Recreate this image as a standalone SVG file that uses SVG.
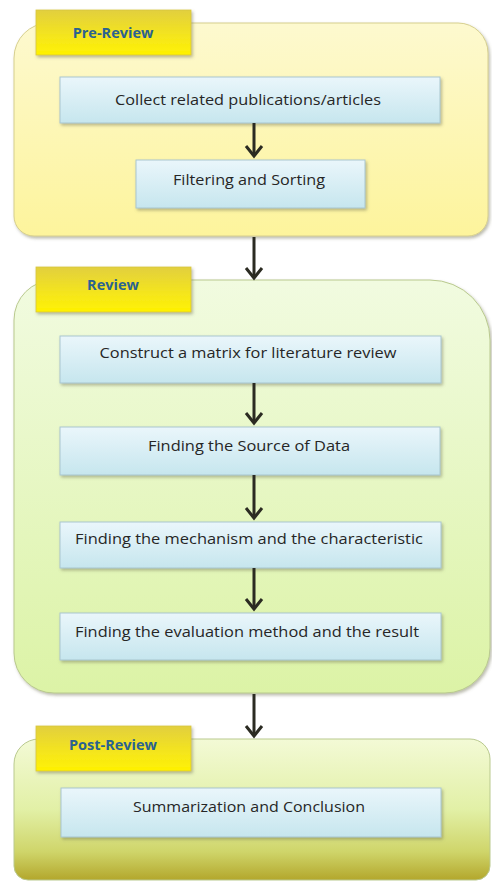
<svg xmlns="http://www.w3.org/2000/svg" width="492" height="881" viewBox="0 0 492 881">
  <style>
    .step { stroke: #a9c6cf; stroke-width: 1; fill: url(#stepFill); filter: url(#shadow); }
    .tab { fill: url(#tabFill); stroke: #d8c640; stroke-width: 0.8; filter: url(#shadow); }
    .label { font-family: "Open Sans", "Liberation Sans", sans-serif; font-size: 14px; fill: #262626; text-anchor: middle; }
    .tabLabel { font-family: "Open Sans", "Liberation Sans", sans-serif; font-size: 14.5px; font-weight: bold; fill: #2a6290; text-anchor: middle; }
    .flow { stroke: #2b2b22; stroke-width: 3; fill: none; marker-end: url(#chevron); }
  </style>
  <defs>
    <linearGradient id="stepFill" x1="0" y1="0" x2="0" y2="1">
      <stop offset="0" stop-color="#eaf6fb"/>
      <stop offset="1" stop-color="#c6e6ee"/>
    </linearGradient>
    <linearGradient id="tabFill" x1="0" y1="0" x2="0" y2="1">
      <stop offset="0" stop-color="#e2cf3e"/>
      <stop offset="0.6" stop-color="#f5e61c"/>
      <stop offset="1" stop-color="#fff200"/>
    </linearGradient>
    <linearGradient id="preFill" x1="0" y1="0" x2="0" y2="1">
      <stop offset="0" stop-color="#fdf9cf"/>
      <stop offset="1" stop-color="#fdf49c"/>
    </linearGradient>
    <linearGradient id="reviewFill" x1="0" y1="0" x2="0" y2="1">
      <stop offset="0" stop-color="#f1fbe0"/>
      <stop offset="1" stop-color="#dcf3a6"/>
    </linearGradient>
    <linearGradient id="postFill" x1="0" y1="0" x2="0" y2="1">
      <stop offset="0" stop-color="#f3fad6"/>
      <stop offset="0.5" stop-color="#e2f0a6"/>
      <stop offset="0.8" stop-color="#cfd56a"/>
      <stop offset="1" stop-color="#b3a72c"/>
    </linearGradient>
    <filter id="shadow" x="-10%" y="-20%" width="120%" height="150%">
      <feDropShadow dx="1.5" dy="2" stdDeviation="1.5" flood-color="#6b6b50" flood-opacity="0.45"/>
    </filter>
    <!-- open chevron head, drawn along the line direction -->
    <marker id="chevron" markerUnits="userSpaceOnUse" markerWidth="16" markerHeight="22" viewBox="-13 -11 16 22" refX="0" refY="0" orient="auto">
      <path d="M -10 -8 L 0 0 L -10 8" stroke="#2b2b22" stroke-width="3" fill="none"/>
    </marker>
  </defs>

  <!-- stage containers -->
  <g id="pre-review">
    <path d="M 49 23 H 458 A 30 30 0 0 1 488 53 V 216 A 20 20 0 0 1 468 236 H 34 A 20 20 0 0 1 14 216 V 58 A 35 35 0 0 1 49 23 Z" fill="url(#preFill)" stroke="#d6cf8e" stroke-width="1" filter="url(#shadow)"/>
    <rect class="tab" x="36" y="10" width="155" height="45"/>
    <text class="tabLabel" x="113" y="38">Pre-Review</text>
  </g>
  <g id="review">
    <path d="M 54 280 H 430 A 60 60 0 0 1 490 340 V 648 A 45 45 0 0 1 445 693 H 54 A 40 40 0 0 1 14 653 V 320 A 40 40 0 0 1 54 280 Z" fill="url(#reviewFill)" stroke="#b9c98e" stroke-width="1" filter="url(#shadow)"/>
    <rect class="tab" x="36" y="267" width="155" height="45"/>
    <text class="tabLabel" x="113" y="290">Review</text>
  </g>
  <g id="post-review">
    <path d="M 39 739 H 470 A 20 20 0 0 1 490 759 V 866 A 14 14 0 0 1 476 880 H 28 A 14 14 0 0 1 14 866 V 764 A 25 25 0 0 1 39 739 Z" fill="url(#postFill)" stroke="#b9c98e" stroke-width="1"/>
    <rect class="tab" x="36" y="726" width="155" height="45"/>
    <text class="tabLabel" x="113" y="750">Post-Review</text>
  </g>

  <!-- steps -->
  <g id="collect">
    <rect class="step" x="60" y="77" width="380" height="46"/>
    <text class="label" x="248" y="105" textLength="266" lengthAdjust="spacingAndGlyphs">Collect related publications/articles</text>
  </g>
  <g id="filter">
    <rect class="step" x="136" y="160" width="229" height="48"/>
    <text class="label" x="249" y="185" textLength="152" lengthAdjust="spacingAndGlyphs">Filtering and Sorting</text>
  </g>
  <g id="matrix">
    <rect class="step" x="60" y="336" width="381" height="47"/>
    <text class="label" x="248" y="358" textLength="297" lengthAdjust="spacingAndGlyphs">Construct a matrix for literature review</text>
  </g>
  <g id="source">
    <rect class="step" x="60" y="427" width="380" height="48"/>
    <text class="label" x="249" y="451" textLength="202" lengthAdjust="spacingAndGlyphs">Finding the Source of Data</text>
  </g>
  <g id="mechanism">
    <rect class="step" x="60" y="522" width="381" height="46"/>
    <text class="label" x="249" y="544" textLength="348" lengthAdjust="spacingAndGlyphs">Finding the mechanism and the characteristic</text>
  </g>
  <g id="evaluation">
    <rect class="step" x="60" y="613" width="381" height="47"/>
    <text class="label" x="247" y="637" textLength="344" lengthAdjust="spacingAndGlyphs">Finding the evaluation method and the result</text>
  </g>
  <g id="summary">
    <rect class="step" x="61" y="788" width="380" height="49"/>
    <text class="label" x="249" y="812" textLength="232" lengthAdjust="spacingAndGlyphs">Summarization and Conclusion</text>
  </g>

  <!-- connectors -->
  <g id="connectors">
    <line class="flow" x1="254" y1="123" x2="254" y2="156"/>
    <line class="flow" x1="254" y1="237" x2="254" y2="278"/>
    <line class="flow" x1="254" y1="383" x2="254" y2="423"/>
    <line class="flow" x1="254" y1="475" x2="254" y2="518"/>
    <line class="flow" x1="254" y1="568" x2="254" y2="609"/>
    <line class="flow" x1="254" y1="694" x2="254" y2="736"/>
  </g>
</svg>
